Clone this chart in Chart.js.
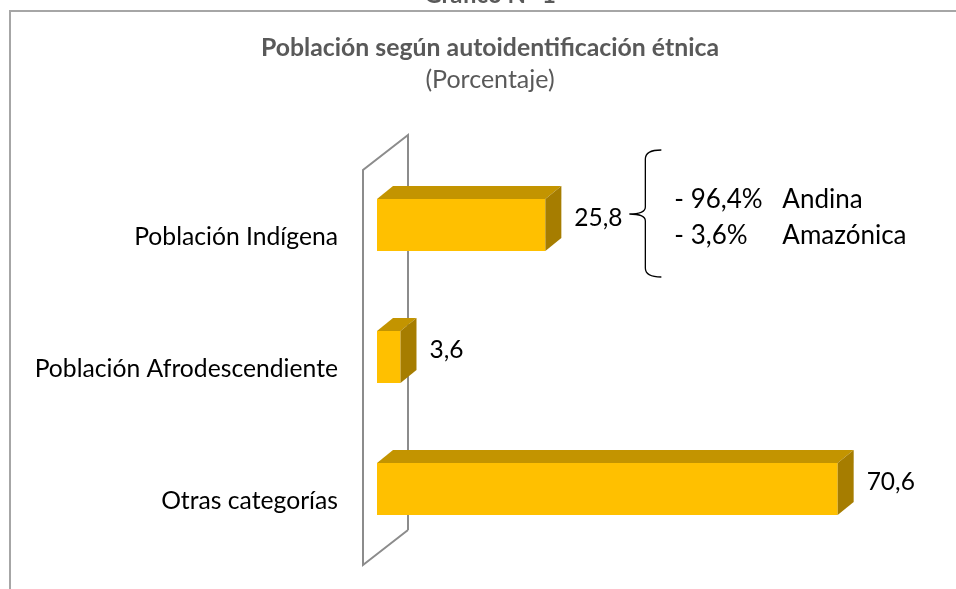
<!DOCTYPE html>
<html>
<head>
<meta charset="utf-8">
<script src="https://cdn.jsdelivr.net/npm/chart.js@4/dist/chart.umd.min.js"></script>
<style>
html, body { margin: 0; background: #fff; }
canvas { display: block; }
</style>
</head>
<body>
<canvas id="chart" width="956" height="589"></canvas>
<script>
const categories = ['Población Indígena', 'Población Afrodescendiente', 'Otras categorías']
const values = [25.8, 3.6, 70.6]
const breakdownPct = ['- 96,4%', '- 3,6%']
const breakdownNames = ['Andina', 'Amazónica']
const caption = 'Gráfico N° 1'
const titleText = 'Población según autoidentificación étnica'
const subtitleText = '(Porcentaje)'

const FONT = 'Lato, "Open Sans", sans-serif'
const depth = { dx: 16, dy: 13 }

// frame, cut-off caption and the two title lines (centred on the page, not on the plot)
const frame = {
    id: 'frame',
    beforeDraw(chart) {
        const ctx = chart.ctx
        ctx.save()
        ctx.strokeStyle = '#a6a6a6'
        ctx.lineWidth = 2
        ctx.beginPath()
        ctx.moveTo(10, 589)
        ctx.lineTo(10, 11)
        ctx.lineTo(956, 11)
        ctx.stroke()
        ctx.fillStyle = '#595959'
        ctx.textAlign = 'center'
        ctx.textBaseline = 'alphabetic'
        ctx.font = 'bold 24px ' + FONT
        ctx.fillText(caption, 490, 3)
        ctx.textBaseline = 'middle'
        ctx.font = 'bold 24.8px ' + FONT
        ctx.fillText(titleText, 490, 48)
        ctx.font = '25px ' + FONT
        ctx.fillText(subtitleText, 490, 80)
        ctx.restore()
    }
}

// the 3D "wall" at x = 0
const wall = {
    id: 'wall',
    beforeDatasetsDraw(chart) {
        const ctx = chart.ctx
        const area = chart.chartArea
        const zero = chart.scales.x.getPixelForValue(0)
        const fx = zero - 14, bx = zero + 31
        ctx.save()
        ctx.strokeStyle = '#8c8c8c'
        ctx.lineWidth = 2
        ctx.beginPath()
        ctx.moveTo(bx, area.bottom - 25)
        ctx.lineTo(bx, area.top - 24)
        ctx.lineTo(fx, area.top + 11)
        ctx.lineTo(fx, area.bottom + 10)
        ctx.lineTo(bx, area.bottom - 25)
        ctx.stroke()
        ctx.restore()
    }
}

// top and side faces + value labels
const bar3d = {
    id: 'bar3d',
    afterDatasetsDraw(chart) {
        const ctx = chart.ctx
        const { dx, dy } = depth
        ctx.save()
        chart.getDatasetMeta(0).data.forEach((bar, i) => {
            const { x, y, base, height } = bar.getProps(['x', 'y', 'base', 'height'], true)
            const top = y - height / 2
            const bottom = y + height / 2
            ctx.fillStyle = '#C39400'
            ctx.beginPath()
            ctx.moveTo(base, top)
            ctx.lineTo(base + dx, top - dy)
            ctx.lineTo(x + dx, top - dy)
            ctx.lineTo(x, top)
            ctx.closePath()
            ctx.fill()
            ctx.fillStyle = '#A67D00'
            ctx.beginPath()
            ctx.moveTo(x, top)
            ctx.lineTo(x + dx, top - dy)
            ctx.lineTo(x + dx, bottom - dy)
            ctx.lineTo(x, bottom)
            ctx.closePath()
            ctx.fill()

            ctx.fillStyle = '#000'
            ctx.font = '24.5px ' + FONT
            ctx.textAlign = 'left'
            ctx.textBaseline = 'middle'
            ctx.fillText(values[i].toFixed(1).replace('.', ','), x + dx + 13, y - 7)
        })
        ctx.restore()
    }
}

// brace with the breakdown of the indigenous population
const brace = {
    id: 'brace',
    afterDraw(chart) {
        const bar = chart.getDatasetMeta(0).data[0]
        const { x, y } = bar.getProps(['x', 'y'], true)
        const ctx = chart.ctx
        const tipX = x + depth.dx + 68
        const vx = tipX + 16
        const tipY = y - 11
        const top = y - 75
        const bottom = y + 52
        ctx.save()
        ctx.strokeStyle = '#000'
        ctx.lineWidth = 1.3
        ctx.beginPath()
        ctx.moveTo(vx + 16, top)
        ctx.quadraticCurveTo(vx, top, vx, top + 9)
        ctx.lineTo(vx, tipY - 7)
        ctx.quadraticCurveTo(vx, tipY, tipX, tipY)
        ctx.moveTo(tipX, tipY)
        ctx.quadraticCurveTo(vx, tipY, vx, tipY + 7)
        ctx.lineTo(vx, bottom - 9)
        ctx.quadraticCurveTo(vx, bottom, vx + 16, bottom)
        ctx.stroke()

        ctx.fillStyle = '#000'
        ctx.font = '26px ' + FONT
        ctx.textAlign = 'left'
        ctx.textBaseline = 'middle'
        breakdownPct.forEach((p, i) => {
            const ty = y - 25 + i * 36
            ctx.fillText(p, vx + 29, ty)
            ctx.fillText(breakdownNames[i], vx + 137, ty)
        })
        ctx.restore()
    }
}

new Chart(document.getElementById('chart'), {
    type: 'bar',
    data: {
        labels: categories,
        datasets: [{
            data: values,
            backgroundColor: '#FFC000',
            borderWidth: 0,
            barPercentage: 1,
            categoryPercentage: 0.394
        }]
    },
    options: {
        indexAxis: 'y',
        responsive: false,
        animation: false,
        layout: { padding: { left: 0, right: 57, top: 159, bottom: 34 } },
        scales: {
            x: { display: false, min: 0, max: 80 },
            y: {
                grid: { display: false, drawTicks: false },
                border: { display: false },
                ticks: {
                    color: '#000',
                    font: { family: FONT, size: 24.7 },
                    padding: 39,
                    labelOffset: 12
                },
                afterFit(scale) {
                    scale.width = 377
                    scale.paddingTop = 0
                    scale.paddingBottom = 0
                }
            }
        },
        plugins: {
            legend: { display: false },
            tooltip: { enabled: false },
            title: { display: false }
        }
    },
    plugins: [frame, wall, bar3d, brace]
})
</script>
</body>
</html>
